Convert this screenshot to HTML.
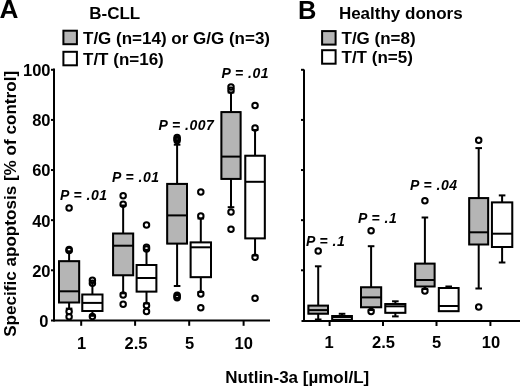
<!DOCTYPE html>
<html><head><meta charset="utf-8"><style>
html,body{margin:0;padding:0;background:#fff;}
body{width:520px;height:386px;overflow:hidden;}
svg{display:block;font-family:"Liberation Sans",sans-serif;will-change:transform;}
</style></head><body>
<svg width="520" height="386" viewBox="0 0 520 386" stroke="#000" stroke-linecap="butt">
<g fill="#000">
<line x1="54" y1="68.5" x2="54" y2="321.4" stroke-width="2.0"/>
<line x1="51" y1="320.4" x2="270" y2="320.4" stroke-width="2.0"/>
<line x1="51" y1="270.28" x2="54" y2="270.28" stroke-width="2.0"/>
<line x1="51" y1="220.16" x2="54" y2="220.16" stroke-width="2.0"/>
<line x1="51" y1="170.04" x2="54" y2="170.04" stroke-width="2.0"/>
<line x1="51" y1="119.92" x2="54" y2="119.92" stroke-width="2.0"/>
<line x1="51" y1="69.8" x2="54" y2="69.8" stroke-width="2.0"/>
<line x1="81.2" y1="320.4" x2="81.2" y2="325.8" stroke-width="2.0"/>
<line x1="135.1" y1="320.4" x2="135.1" y2="325.8" stroke-width="2.0"/>
<line x1="189.2" y1="320.4" x2="189.2" y2="325.8" stroke-width="2.0"/>
<line x1="243.6" y1="320.4" x2="243.6" y2="325.8" stroke-width="2.0"/>
<text stroke="none" x="48.5" y="326.8" font-size="16.5" font-weight="bold" font-style="normal" text-anchor="end" >0</text>
<text stroke="none" x="50.5" y="276.68" font-size="16.5" font-weight="bold" font-style="normal" text-anchor="end" >20</text>
<text stroke="none" x="50.5" y="226.56" font-size="16.5" font-weight="bold" font-style="normal" text-anchor="end" >40</text>
<text stroke="none" x="50.5" y="176.44" font-size="16.5" font-weight="bold" font-style="normal" text-anchor="end" >60</text>
<text stroke="none" x="50.5" y="126.32" font-size="16.5" font-weight="bold" font-style="normal" text-anchor="end" >80</text>
<text stroke="none" x="50.5" y="76.2" font-size="16.5" font-weight="bold" font-style="normal" text-anchor="end" >100</text>
<text stroke="none" x="81.6" y="348.5" font-size="16.5" font-weight="bold" font-style="normal" text-anchor="middle" >1</text>
<text stroke="none" x="136" y="348.5" font-size="16.5" font-weight="bold" font-style="normal" text-anchor="middle" >2.5</text>
<text stroke="none" x="189.7" y="348.5" font-size="16.5" font-weight="bold" font-style="normal" text-anchor="middle" >5</text>
<text stroke="none" x="243.8" y="348.5" font-size="16.5" font-weight="bold" font-style="normal" text-anchor="middle" >10</text>
<line x1="69.1" y1="251.3" x2="69.1" y2="261.2" stroke-width="2.0"/>
<line x1="65.8" y1="251.3" x2="72.4" y2="251.3" stroke-width="2.0"/>
<line x1="69.1" y1="302.5" x2="69.1" y2="308.6" stroke-width="2.0"/>
<line x1="65.8" y1="308.6" x2="72.4" y2="308.6" stroke-width="2.0"/>
<rect x="59" y="261.2" width="20.2" height="41.3" fill="#b5b5b5"/>
<rect x="59" y="261.2" width="20.2" height="41.3" fill="none" stroke-width="2.0"/>
<line x1="59" y1="291.3" x2="79.2" y2="291.3" stroke-width="2.0"/>
<circle cx="69.1" cy="208" r="2.75" fill="none" stroke-width="2.0"/>
<circle cx="69.1" cy="249.6" r="2.75" fill="none" stroke-width="2.0"/>
<circle cx="69.1" cy="250.6" r="2.75" fill="none" stroke-width="2.0"/>
<circle cx="69.1" cy="311.5" r="2.75" fill="none" stroke-width="2.0"/>
<circle cx="69.1" cy="316.8" r="2.75" fill="none" stroke-width="2.0"/>
<line x1="92.4" y1="282.3" x2="92.4" y2="294.5" stroke-width="2.0"/>
<line x1="89.1" y1="282.3" x2="95.7" y2="282.3" stroke-width="2.0"/>
<line x1="92.4" y1="311" x2="92.4" y2="315.8" stroke-width="2.0"/>
<line x1="89.1" y1="315.8" x2="95.7" y2="315.8" stroke-width="2.0"/>
<rect x="82.3" y="294.5" width="20.2" height="16.5" fill="#fff"/>
<rect x="82.3" y="294.5" width="20.2" height="16.5" fill="none" stroke-width="2.0"/>
<line x1="82.3" y1="302.9" x2="102.5" y2="302.9" stroke-width="2.0"/>
<circle cx="92.4" cy="280.3" r="2.75" fill="none" stroke-width="2.0"/>
<circle cx="92.4" cy="283.3" r="2.75" fill="none" stroke-width="2.0"/>
<circle cx="92.4" cy="316.4" r="2.75" fill="none" stroke-width="2.0"/>
<line x1="123.15" y1="205.5" x2="123.15" y2="233.5" stroke-width="2.0"/>
<line x1="119.85" y1="205.5" x2="126.45" y2="205.5" stroke-width="2.0"/>
<line x1="123.15" y1="275.3" x2="123.15" y2="293.3" stroke-width="2.0"/>
<line x1="119.85" y1="293.3" x2="126.45" y2="293.3" stroke-width="2.0"/>
<rect x="113.1" y="233.5" width="20.1" height="41.8" fill="#b5b5b5"/>
<rect x="113.1" y="233.5" width="20.1" height="41.8" fill="none" stroke-width="2.0"/>
<line x1="113.1" y1="245.7" x2="133.2" y2="245.7" stroke-width="2.0"/>
<circle cx="123.15" cy="195.8" r="2.75" fill="none" stroke-width="2.0"/>
<circle cx="123.15" cy="204.3" r="2.75" fill="none" stroke-width="2.0"/>
<circle cx="123.15" cy="295" r="2.75" fill="none" stroke-width="2.0"/>
<circle cx="123.15" cy="304.2" r="2.75" fill="none" stroke-width="2.0"/>
<line x1="146.5" y1="250" x2="146.5" y2="265" stroke-width="2.0"/>
<line x1="143.2" y1="250" x2="149.8" y2="250" stroke-width="2.0"/>
<line x1="146.5" y1="291.6" x2="146.5" y2="303.5" stroke-width="2.0"/>
<line x1="143.2" y1="303.5" x2="149.8" y2="303.5" stroke-width="2.0"/>
<rect x="136.6" y="265" width="19.8" height="26.6" fill="#fff"/>
<rect x="136.6" y="265" width="19.8" height="26.6" fill="none" stroke-width="2.0"/>
<line x1="136.6" y1="278" x2="156.4" y2="278" stroke-width="2.0"/>
<circle cx="146.5" cy="225" r="2.75" fill="none" stroke-width="2.0"/>
<circle cx="146.5" cy="247.2" r="2.75" fill="none" stroke-width="2.0"/>
<circle cx="146.5" cy="249" r="2.75" fill="none" stroke-width="2.0"/>
<circle cx="146.5" cy="305.5" r="2.75" fill="none" stroke-width="2.0"/>
<circle cx="146.5" cy="311.5" r="2.75" fill="none" stroke-width="2.0"/>
<line x1="177.1" y1="144.7" x2="177.1" y2="183.9" stroke-width="2.0"/>
<line x1="173.8" y1="144.7" x2="180.4" y2="144.7" stroke-width="2.0"/>
<line x1="177.1" y1="243.6" x2="177.1" y2="286" stroke-width="2.0"/>
<line x1="173.8" y1="286" x2="180.4" y2="286" stroke-width="2.0"/>
<rect x="167.2" y="183.9" width="19.8" height="59.7" fill="#b5b5b5"/>
<rect x="167.2" y="183.9" width="19.8" height="59.7" fill="none" stroke-width="2.0"/>
<line x1="167.2" y1="215.4" x2="187" y2="215.4" stroke-width="2.0"/>
<circle cx="177.1" cy="137.6" r="2.75" fill="none" stroke-width="2.0"/>
<circle cx="177.1" cy="139" r="2.75" fill="none" stroke-width="2.0"/>
<circle cx="177.1" cy="140.4" r="2.75" fill="none" stroke-width="2.0"/>
<circle cx="177.1" cy="295.2" r="2.75" fill="none" stroke-width="2.0"/>
<circle cx="177.1" cy="296.5" r="2.75" fill="none" stroke-width="2.0"/>
<circle cx="177.1" cy="297.8" r="2.75" fill="none" stroke-width="2.0"/>
<line x1="200.8" y1="218.5" x2="200.8" y2="242.4" stroke-width="2.0"/>
<line x1="197.5" y1="218.5" x2="204.1" y2="218.5" stroke-width="2.0"/>
<line x1="200.8" y1="277.2" x2="200.8" y2="292" stroke-width="2.0"/>
<line x1="197.5" y1="292" x2="204.1" y2="292" stroke-width="2.0"/>
<rect x="190.6" y="242.4" width="20.4" height="34.8" fill="#fff"/>
<rect x="190.6" y="242.4" width="20.4" height="34.8" fill="none" stroke-width="2.0"/>
<line x1="190.6" y1="247.3" x2="211" y2="247.3" stroke-width="2.0"/>
<circle cx="200.8" cy="192.1" r="2.75" fill="none" stroke-width="2.0"/>
<circle cx="200.8" cy="215.9" r="2.75" fill="none" stroke-width="2.0"/>
<circle cx="200.8" cy="294.1" r="2.75" fill="none" stroke-width="2.0"/>
<circle cx="200.8" cy="307.8" r="2.75" fill="none" stroke-width="2.0"/>
<line x1="231.0" y1="92.5" x2="231.0" y2="112.1" stroke-width="2.0"/>
<line x1="227.7" y1="92.5" x2="234.3" y2="92.5" stroke-width="2.0"/>
<line x1="231.0" y1="178.9" x2="231.0" y2="207.2" stroke-width="2.0"/>
<line x1="227.7" y1="207.2" x2="234.3" y2="207.2" stroke-width="2.0"/>
<rect x="221.4" y="112.1" width="19.2" height="66.8" fill="#b5b5b5"/>
<rect x="221.4" y="112.1" width="19.2" height="66.8" fill="none" stroke-width="2.0"/>
<line x1="221.4" y1="156.6" x2="240.6" y2="156.6" stroke-width="2.0"/>
<circle cx="231.0" cy="87" r="2.75" fill="none" stroke-width="2.0"/>
<circle cx="231.0" cy="90.3" r="2.75" fill="none" stroke-width="2.0"/>
<circle cx="231.0" cy="212" r="2.75" fill="none" stroke-width="2.0"/>
<circle cx="231.0" cy="229.3" r="2.75" fill="none" stroke-width="2.0"/>
<line x1="255.05" y1="130" x2="255.05" y2="155.7" stroke-width="2.0"/>
<line x1="251.75" y1="130" x2="258.35" y2="130" stroke-width="2.0"/>
<line x1="255.05" y1="238.4" x2="255.05" y2="255.5" stroke-width="2.0"/>
<line x1="251.75" y1="255.5" x2="258.35" y2="255.5" stroke-width="2.0"/>
<rect x="245.3" y="155.7" width="19.5" height="82.7" fill="#fff"/>
<rect x="245.3" y="155.7" width="19.5" height="82.7" fill="none" stroke-width="2.0"/>
<line x1="245.3" y1="181.8" x2="264.8" y2="181.8" stroke-width="2.0"/>
<circle cx="255.05" cy="105.4" r="2.75" fill="none" stroke-width="2.0"/>
<circle cx="255.05" cy="128" r="2.75" fill="none" stroke-width="2.0"/>
<circle cx="255.05" cy="257.2" r="2.75" fill="none" stroke-width="2.0"/>
<circle cx="255.05" cy="298.3" r="2.75" fill="none" stroke-width="2.0"/>
<line x1="304" y1="69.5" x2="304" y2="321.5" stroke-width="2.0"/>
<line x1="301.5" y1="320.9" x2="520" y2="320.9" stroke-width="2.0"/>
<line x1="301" y1="270.28" x2="304" y2="270.28" stroke-width="2.0"/>
<line x1="301" y1="220.16" x2="304" y2="220.16" stroke-width="2.0"/>
<line x1="301" y1="170.04" x2="304" y2="170.04" stroke-width="2.0"/>
<line x1="301" y1="119.92" x2="304" y2="119.92" stroke-width="2.0"/>
<line x1="301" y1="69.8" x2="304" y2="69.8" stroke-width="2.0"/>
<line x1="329.6" y1="320.9" x2="329.6" y2="326" stroke-width="2.0"/>
<line x1="383" y1="320.9" x2="383" y2="326" stroke-width="2.0"/>
<line x1="436.5" y1="320.9" x2="436.5" y2="326" stroke-width="2.0"/>
<line x1="490.4" y1="320.9" x2="490.4" y2="326" stroke-width="2.0"/>
<text stroke="none" x="329.2" y="347.7" font-size="16.5" font-weight="bold" font-style="normal" text-anchor="middle" >1</text>
<text stroke="none" x="383.5" y="347.7" font-size="16.5" font-weight="bold" font-style="normal" text-anchor="middle" >2.5</text>
<text stroke="none" x="436.5" y="347.7" font-size="16.5" font-weight="bold" font-style="normal" text-anchor="middle" >5</text>
<text stroke="none" x="491" y="347.7" font-size="16.5" font-weight="bold" font-style="normal" text-anchor="middle" >10</text>
<line x1="318.2" y1="266.3" x2="318.2" y2="305.6" stroke-width="2.0"/>
<line x1="314.9" y1="266.3" x2="321.5" y2="266.3" stroke-width="2.0"/>
<line x1="318.2" y1="313.7" x2="318.2" y2="319.5" stroke-width="2.0"/>
<line x1="314.9" y1="319.5" x2="321.5" y2="319.5" stroke-width="2.0"/>
<rect x="308.4" y="305.6" width="19.6" height="8.1" fill="#b5b5b5"/>
<rect x="308.4" y="305.6" width="19.6" height="8.1" fill="none" stroke-width="2.0"/>
<line x1="308.4" y1="310.1" x2="328" y2="310.1" stroke-width="2.0"/>
<circle cx="318.2" cy="251.1" r="2.75" fill="none" stroke-width="2.0"/>
<line x1="342.05" y1="313.8" x2="342.05" y2="316" stroke-width="2.0"/>
<line x1="338.75" y1="313.8" x2="345.35" y2="313.8" stroke-width="2.0"/>
<rect x="332.2" y="316" width="19.7" height="4" fill="#fff"/>
<rect x="332.2" y="316" width="19.7" height="4" fill="none" stroke-width="2.0"/>
<line x1="332.2" y1="317.2" x2="351.9" y2="317.2" stroke-width="2.0"/>
<line x1="371.1" y1="246.2" x2="371.1" y2="287.3" stroke-width="2.0"/>
<line x1="367.8" y1="246.2" x2="374.4" y2="246.2" stroke-width="2.0"/>
<line x1="371.1" y1="307.3" x2="371.1" y2="310" stroke-width="2.0"/>
<line x1="367.8" y1="310" x2="374.4" y2="310" stroke-width="2.0"/>
<rect x="361" y="287.3" width="20.2" height="20.0" fill="#b5b5b5"/>
<rect x="361" y="287.3" width="20.2" height="20.0" fill="none" stroke-width="2.0"/>
<line x1="361" y1="297.4" x2="381.2" y2="297.4" stroke-width="2.0"/>
<circle cx="371.1" cy="230.8" r="2.75" fill="none" stroke-width="2.0"/>
<circle cx="371.1" cy="311.5" r="2.75" fill="none" stroke-width="2.0"/>
<line x1="395.35" y1="301.3" x2="395.35" y2="304" stroke-width="2.0"/>
<line x1="392.05" y1="301.3" x2="398.65" y2="301.3" stroke-width="2.0"/>
<line x1="395.35" y1="312.8" x2="395.35" y2="316.4" stroke-width="2.0"/>
<line x1="392.05" y1="316.4" x2="398.65" y2="316.4" stroke-width="2.0"/>
<rect x="385.3" y="304" width="20.1" height="8.8" fill="#fff"/>
<rect x="385.3" y="304" width="20.1" height="8.8" fill="none" stroke-width="2.0"/>
<line x1="385.3" y1="306.3" x2="405.4" y2="306.3" stroke-width="2.0"/>
<line x1="424.9" y1="217.5" x2="424.9" y2="263.6" stroke-width="2.0"/>
<line x1="421.6" y1="217.5" x2="428.2" y2="217.5" stroke-width="2.0"/>
<line x1="424.9" y1="286.5" x2="424.9" y2="289" stroke-width="2.0"/>
<line x1="421.6" y1="289" x2="428.2" y2="289" stroke-width="2.0"/>
<rect x="415.2" y="263.6" width="19.4" height="22.9" fill="#b5b5b5"/>
<rect x="415.2" y="263.6" width="19.4" height="22.9" fill="none" stroke-width="2.0"/>
<line x1="415.2" y1="280" x2="434.6" y2="280" stroke-width="2.0"/>
<circle cx="424.9" cy="200.8" r="2.75" fill="none" stroke-width="2.0"/>
<circle cx="424.9" cy="291" r="2.75" fill="none" stroke-width="2.0"/>
<line x1="448.7" y1="286.5" x2="448.7" y2="288" stroke-width="2.0"/>
<line x1="445.4" y1="286.5" x2="452.0" y2="286.5" stroke-width="2.0"/>
<rect x="438.8" y="288" width="19.8" height="23.2" fill="#fff"/>
<rect x="438.8" y="288" width="19.8" height="23.2" fill="none" stroke-width="2.0"/>
<line x1="438.8" y1="306" x2="458.6" y2="306" stroke-width="2.0"/>
<line x1="478.7" y1="148.1" x2="478.7" y2="198.1" stroke-width="2.0"/>
<line x1="475.4" y1="148.1" x2="482.0" y2="148.1" stroke-width="2.0"/>
<line x1="478.7" y1="244.5" x2="478.7" y2="288.5" stroke-width="2.0"/>
<line x1="475.4" y1="288.5" x2="482.0" y2="288.5" stroke-width="2.0"/>
<rect x="469.2" y="198.1" width="19.0" height="46.4" fill="#b5b5b5"/>
<rect x="469.2" y="198.1" width="19.0" height="46.4" fill="none" stroke-width="2.0"/>
<line x1="469.2" y1="232.3" x2="488.2" y2="232.3" stroke-width="2.0"/>
<circle cx="478.7" cy="140.3" r="2.75" fill="none" stroke-width="2.0"/>
<circle cx="478.7" cy="307.1" r="2.75" fill="none" stroke-width="2.0"/>
<line x1="502.1" y1="195.4" x2="502.1" y2="202.4" stroke-width="2.0"/>
<line x1="498.8" y1="195.4" x2="505.4" y2="195.4" stroke-width="2.0"/>
<line x1="502.1" y1="247" x2="502.1" y2="262.5" stroke-width="2.0"/>
<line x1="498.8" y1="262.5" x2="505.4" y2="262.5" stroke-width="2.0"/>
<rect x="491.9" y="202.4" width="20.4" height="44.6" fill="#fff"/>
<rect x="491.9" y="202.4" width="20.4" height="44.6" fill="none" stroke-width="2.0"/>
<line x1="491.9" y1="233.7" x2="512.3" y2="233.7" stroke-width="2.0"/>
<text stroke="none" x="60" y="199.5" font-size="14" font-weight="bold" font-style="italic" text-anchor="start" letter-spacing="0.45">P = .01</text>
<text stroke="none" x="112" y="182.1" font-size="14" font-weight="bold" font-style="italic" text-anchor="start" letter-spacing="0.45">P = .01</text>
<text stroke="none" x="158.5" y="130.2" font-size="14" font-weight="bold" font-style="italic" text-anchor="start" letter-spacing="0.45">P = .007</text>
<text stroke="none" x="221.5" y="78" font-size="14" font-weight="bold" font-style="italic" text-anchor="start" letter-spacing="0.45">P = .01</text>
<text stroke="none" x="306" y="245.6" font-size="14" font-weight="bold" font-style="italic" text-anchor="start" letter-spacing="0.45">P = .1</text>
<text stroke="none" x="358" y="223" font-size="14" font-weight="bold" font-style="italic" text-anchor="start" letter-spacing="0.45">P = .1</text>
<text stroke="none" x="410" y="190.3" font-size="14" font-weight="bold" font-style="italic" text-anchor="start" letter-spacing="0.45">P = .04</text>
<text stroke="none" x="-0.6" y="18" font-size="26.2" font-weight="bold" font-style="normal" text-anchor="start" >A</text>
<text stroke="none" x="298" y="19" font-size="25.5" font-weight="bold" font-style="normal" text-anchor="start" >B</text>
<text stroke="none" x="89.2" y="19.3" font-size="17" font-weight="bold" font-style="normal" text-anchor="start" >B-CLL</text>
<text stroke="none" x="338.9" y="19.4" font-size="17" font-weight="bold" font-style="normal" text-anchor="start" >Healthy donors</text>
<rect x="63.4" y="30.7" width="13.5" height="13.5" fill="#b5b5b5" stroke-width="2"/>
<rect x="63.4" y="51.8" width="13.5" height="13.5" fill="#fff" stroke-width="2"/>
<text stroke="none" x="83" y="43.5" font-size="17" font-weight="bold" font-style="normal" text-anchor="start" >T/G (n=14) or G/G (n=3)</text>
<text stroke="none" x="83" y="64.8" font-size="17" font-weight="bold" font-style="normal" text-anchor="start" >T/T (n=16)</text>
<rect x="322.1" y="31.1" width="13.5" height="13.5" fill="#b5b5b5" stroke-width="2"/>
<rect x="322.1" y="50.2" width="13.5" height="13.5" fill="#fff" stroke-width="2"/>
<text stroke="none" x="341.5" y="43.8" font-size="17" font-weight="bold" font-style="normal" text-anchor="start" >T/G (n=8)</text>
<text stroke="none" x="341.5" y="63.4" font-size="17" font-weight="bold" font-style="normal" text-anchor="start" >T/T (n=5)</text>
<text stroke="none" x="297.3" y="382.8" font-size="17" font-weight="bold" font-style="normal" text-anchor="middle" >Nutlin-3a [µmol/L]</text>
<text stroke="none" x="0" y="0" font-size="17.1" font-weight="bold" text-anchor="middle" transform="translate(16.3,203.9) rotate(-90)">Specific apoptosis [% of control]</text>
</g>
</svg>
</body></html>
